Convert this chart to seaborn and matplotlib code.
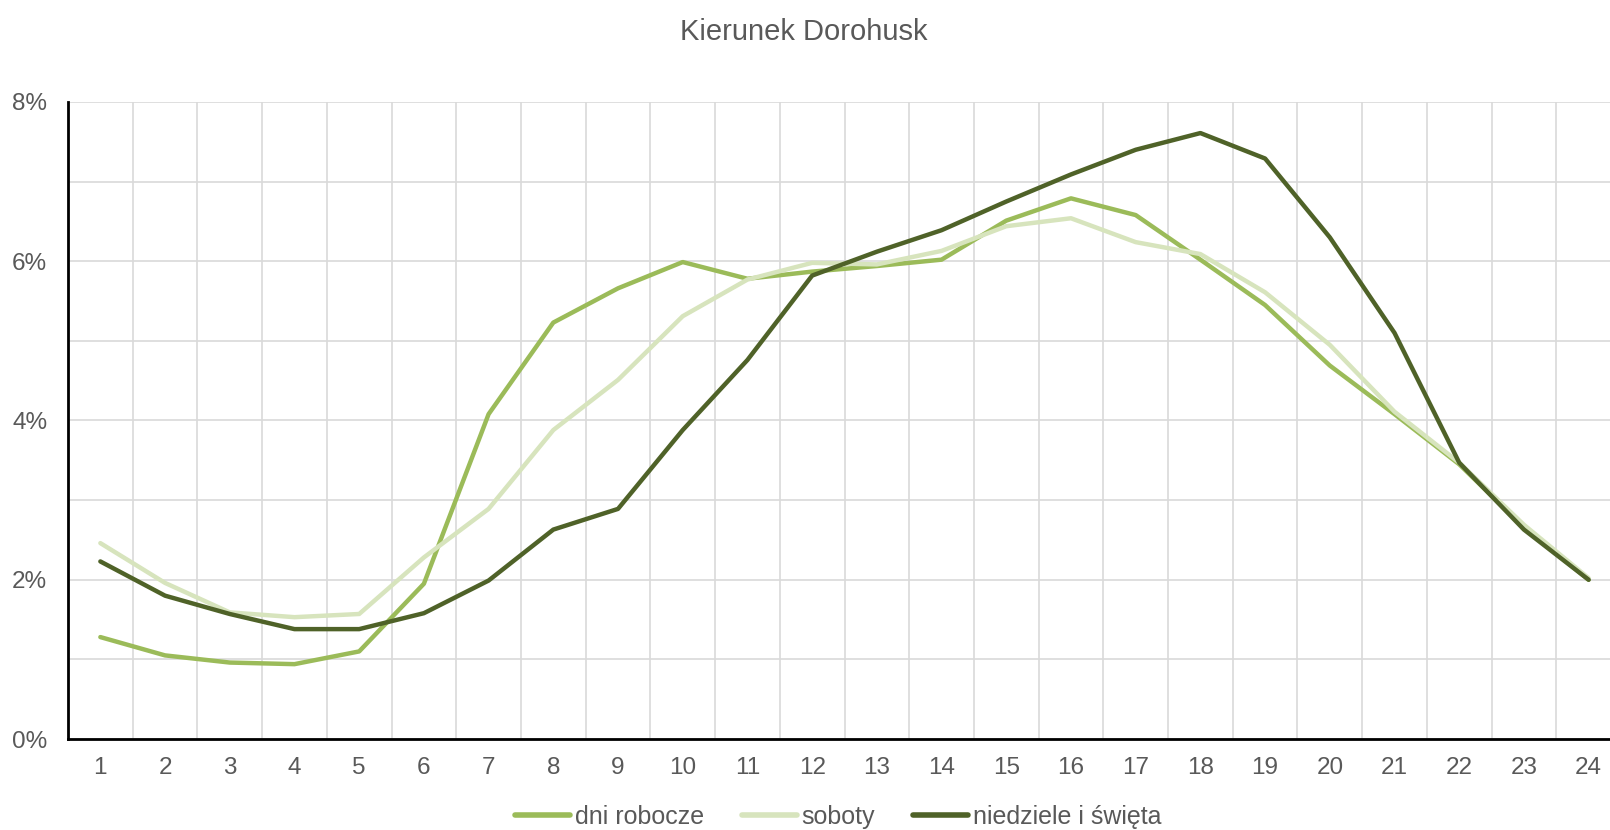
import numpy as np
import pandas as pd
import matplotlib
matplotlib.use("Agg")
import matplotlib.pyplot as plt
import seaborn as sns
from matplotlib.ticker import MultipleLocator, FuncFormatter

hours = list(range(1, 25))
dni_robocze = [1.28, 1.05, 0.96, 0.94, 1.10, 1.95, 4.08, 5.23, 5.66, 5.99, 5.78, 5.87,
               5.94, 6.02, 6.51, 6.79, 6.58, 6.02, 5.45, 4.69, 4.08, 3.45, 2.66, 2.00]
soboty = [2.46, 1.96, 1.59, 1.53, 1.57, 2.28, 2.89, 3.88, 4.51, 5.31, 5.77, 5.98,
          5.96, 6.13, 6.44, 6.54, 6.24, 6.09, 5.61, 4.95, 4.11, 3.47, 2.69, 2.02]
niedziele = [2.23, 1.80, 1.57, 1.38, 1.38, 1.58, 1.99, 2.63, 2.89, 3.88, 4.76, 5.82,
             6.12, 6.39, 6.75, 7.09, 7.40, 7.61, 7.29, 6.30, 5.10, 3.47, 2.63, 2.00]
series = ["dni robocze", "soboty", "niedziele i święta"]
colors = ["#9BBB59", "#D7E4BD", "#4F6228"]

df = pd.DataFrame({
    "godzina": hours * 3,
    "udzial": dni_robocze + soboty + niedziele,
    "typ": [series[0]] * 24 + [series[1]] * 24 + [series[2]] * 24,
})

sns.set_style("white")
plt.rcParams["font.family"] = ["Liberation Sans", "DejaVu Sans"]
txt = "#595959"

fig = plt.figure(figsize=(16.1, 8.3), dpi=100)
ax = fig.add_axes([68 / 1610, 1 - 739 / 830, (1621 - 68) / 1610, (739 - 102) / 830])

sns.lineplot(data=df, x="godzina", y="udzial", hue="typ", hue_order=series,
             palette=colors, linewidth=3.2, ax=ax, legend=False, zorder=3)

ax.set_xlim(0.5, 24.5)
ax.set_ylim(0, 8)
ax.set_xticks(hours)
ax.set_xticks(np.arange(0.5, 25, 1), minor=True)
ax.yaxis.set_major_locator(MultipleLocator(2))
ax.yaxis.set_minor_locator(MultipleLocator(1))
ax.yaxis.set_major_formatter(FuncFormatter(lambda v, p: f"{v:.0f}%"))
ax.grid(True, which="minor", axis="x", color="#d9d9d9", linewidth=1.2)
ax.grid(True, which="both", axis="y", color="#d9d9d9", linewidth=1.2)
ax.tick_params(axis="both", which="both", length=0, labelsize=17.5, colors=txt)
ax.tick_params(axis="x", pad=13)
ax.tick_params(axis="y", pad=15)
ax.set_xlabel("")
ax.set_ylabel("")
for s in ["top", "right"]:
    ax.spines[s].set_visible(False)
for s in ["left", "bottom"]:
    ax.spines[s].set_color("black")
    ax.spines[s].set_linewidth(2)
    ax.spines[s].set_zorder(4)

fig.text(804 / 1610, 1 - 32 / 830, "Kierunek Dorohusk", ha="center", va="center",
         fontsize=21, color=txt)

handles = [plt.Line2D([], [], color=c, linewidth=4, solid_capstyle="round") for c in colors]
fig.legend(handles, series, loc="center", bbox_to_anchor=(838 / 1610, 1 - 817 / 830),
           ncol=3, frameon=False, fontsize=18, labelcolor=txt, handlelength=2.2,
           handletextpad=0.2, columnspacing=1.5, borderpad=0)

fig.savefig("out.png", dpi=100)
